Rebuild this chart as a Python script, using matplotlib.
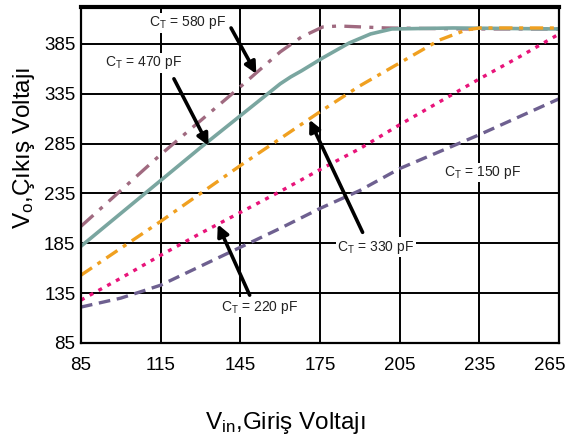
import matplotlib
matplotlib.use("Agg")
import matplotlib.pyplot as plt
import matplotlib.transforms as mtransforms

plt.rcParams['font.family'] = ['Liberation Sans', 'DejaVu Sans']

x_ticks = [85, 115, 145, 175, 205, 235, 265]
y_ticks = [85, 135, 185, 235, 285, 335, 385]

# C_T = 580 pF
x580 = [85, 100, 115, 130, 145, 160, 168, 176, 182, 200, 230, 265]
y580 = [202, 238, 274, 308, 342, 377, 392, 402, 403, 401, 400, 400]
# C_T = 470 pF
x470 = [85, 100, 115, 130, 145, 160, 164, 168, 176, 186, 194, 202, 225, 265]
y470 = [182, 215, 248, 281, 313, 345, 352, 358, 371, 386, 395, 400, 401, 400]
# C_T = 330 pF
x330 = [85, 100, 115, 130, 145, 160, 175, 190, 205, 220, 230, 235, 265]
y330 = [153, 180, 207, 235, 263, 290, 317, 343, 366, 389, 399, 401, 401]
# C_T = 220 pF
x220 = [85, 100, 115, 130, 145, 160, 175, 190, 205, 220, 235, 250, 265]
y220 = [128, 150, 173, 195, 216, 237, 259, 280, 304, 327, 350, 372, 395]
# C_T = 150 pF
x150 = [85, 100, 107, 115, 130, 145, 160, 175, 190, 205, 220, 235, 250, 265]
y150 = [121, 130, 136, 143, 162, 181, 200, 220, 238, 260, 277, 294, 312, 330]

fig = plt.figure(figsize=(5.66, 4.40), dpi=100)
ax = fig.add_axes([0.143, 0.2205, 0.845, 0.7635])

ax.set_xlim(85, 265)
ax.set_ylim(85, 422)
ax.set_xticks(x_ticks)
ax.set_yticks(y_ticks)
ax.grid(True, color='black', lw=1.4)
ax.set_axisbelow(True)
ax.tick_params(length=0, labelsize=13.5)
ax.tick_params(axis='x', pad=10)
ax.tick_params(axis='y', pad=4)
for s in ['left', 'bottom', 'right']:
    ax.spines[s].set_linewidth(1.6)
ax.spines['top'].set_linewidth(3)

last = ax.get_xticklabels()[-1]
last.set_transform(last.get_transform() +
                   mtransforms.ScaledTranslation(-9 / 100, 0, fig.dpi_scale_trans))

ax.plot(x580, y580, color='#a06a80', lw=2.4, dashes=(5, 2.5, 1.2, 2.5))
ax.plot(x470, y470, color='#7aa6a0', lw=2.6)
ax.plot(x330, y330, color='#f0a020', lw=2.4, dashes=(4, 2, 1.2, 2))
ax.plot(x220, y220, color='#e8147a', lw=2.4, dashes=(1.2, 1.8))
ax.plot(x150, y150, color='#6e6090', lw=2.4, dashes=(3.5, 2))

bbox = dict(boxstyle='square,pad=0.1', fc='white', ec='none')
aprops = dict(arrowstyle='-|>', color='black', lw=2.6, mutation_scale=17,
              shrinkA=0, shrinkB=0)
fs = 10
ax.text(125, 406, r'$\mathregular{C_T}$ = 580 pF', fontsize=fs, ha='center', va='center', bbox=bbox, color='#222222')
ax.annotate('', xy=(151, 355), xytext=(141.5, 401), arrowprops=aprops)
ax.text(108.5, 366, r'$\mathregular{C_T}$ = 470 pF', fontsize=fs, ha='center', va='center', bbox=bbox, color='#222222')
ax.annotate('', xy=(133, 283), xytext=(120, 350), arrowprops=aprops)
ax.text(196, 181, r'$\mathregular{C_T}$ = 330 pF', fontsize=fs, ha='center', va='center', bbox=bbox, color='#222222')
ax.annotate('', xy=(171, 309), xytext=(191, 196), arrowprops=aprops)
ax.text(152, 121, r'$\mathregular{C_T}$ = 220 pF', fontsize=fs, ha='center', va='center', bbox=bbox, color='#222222')
ax.annotate('', xy=(136.5, 204), xytext=(148.5, 133), arrowprops=aprops)
ax.text(236, 256, r'$\mathregular{C_T}$ = 150 pF', fontsize=fs, ha='center', va='center', bbox=bbox, color='#222222')

fig.text(0.043, 0.665, r'$\mathregular{V_o}$,Çıkış Voltajı', rotation=90, fontsize=17.5,
         ha='center', va='center')
fig.text(0.504, 0.025, r'$\mathregular{V_{in}}$,Giriş Voltajı', fontsize=17.5,
         ha='center', va='baseline')

fig.savefig('out.png', dpi=100)
